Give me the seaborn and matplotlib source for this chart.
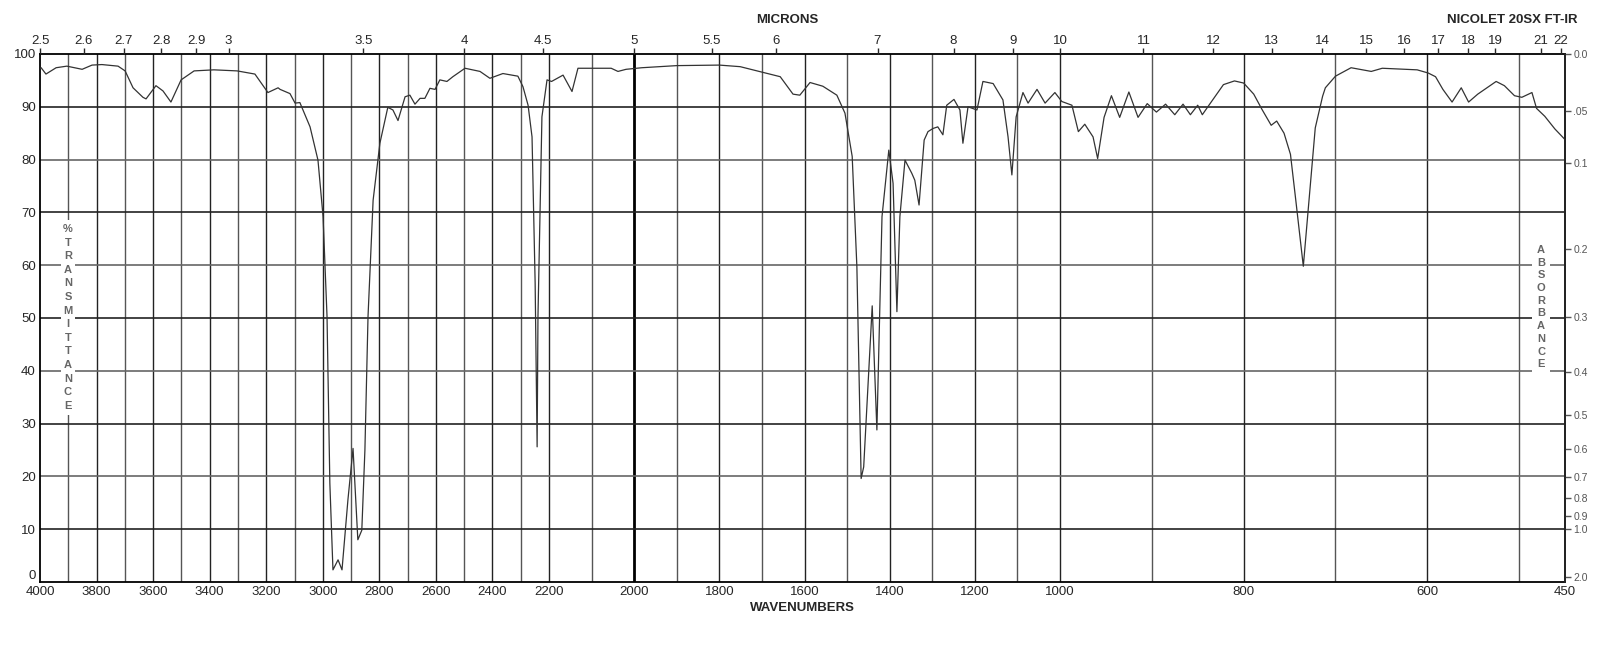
import numpy as np
import pandas as pd
import matplotlib
matplotlib.use("Agg")
import matplotlib.pyplot as plt
from matplotlib.patches import Rectangle
import seaborn as sns

wavenumbers = [4000,3996,3979,3943,3905,3851,3816,3781,3724,3699,3671,3636,3625,3590,3565,3537,3501,3455,3385,3303,3240,3194,3158,3151,3116,3098,3081,3045,3017,2999,2985,2975,2964,2946,2932,2911,2893,2876,2862,2851,2840,2822,2798,2770,2752,2734,2709,2692,2674,2656,2639,2621,2603,2586,2561,2540,2497,2444,2409,2363,2310,2292,2274,2260,2249,2242,2239,2225,2207,2194,2167,2146,2132,2054,2038,2019,1982,1900,1800,1751,1681,1657,1627,1611,1587,1557,1524,1505,1488,1477,1467,1461,1441,1430,1418,1402,1392,1383,1376,1364,1348,1341,1331,1319,1310,1298,1287,1275,1266,1249,1235,1228,1216,1195,1181,1157,1134,1122,1113,1103,1087,1075,1054,1035,1012,998,987,980,973,964,959,952,944,935,925,915,905,895,885,875,866,858,850,845,839,822,810,800,789,780,770,764,756,749,743,735,729,722,714,711,700,683,661,649,611,599,591,583,573,563,555,545,525,516,505,497,486,481,472,461,450]
transmittance = [97.2,97.4,96.2,97.4,97.7,97.1,97.9,98.0,97.7,96.8,93.6,91.8,91.5,94.0,93.0,90.9,95.1,96.8,97.0,96.8,96.2,92.7,93.6,93.3,92.5,90.7,90.8,86.2,79.9,69.2,50.3,18.7,2.3,4.2,2.3,15.6,25.3,8.0,9.8,25.0,50.3,72.3,83.1,89.9,89.4,87.4,91.9,92.2,90.5,91.6,91.6,93.5,93.3,95.1,94.8,95.7,97.3,96.7,95.4,96.3,95.8,93.8,90.3,84.3,56.6,25.6,50.3,88.1,95.1,94.8,96.0,92.9,97.3,97.3,96.7,97.1,97.4,97.8,97.9,97.6,96.2,95.7,92.4,92.2,94.6,93.9,92.2,88.8,80.6,59.7,19.6,21.8,52.3,28.8,69.2,81.8,75.5,51.2,69.2,79.9,77.4,76.1,71.4,83.7,85.3,85.9,86.2,84.7,90.3,91.4,89.4,83.1,90.0,89.4,94.8,94.4,91.3,84.3,77.1,88.1,92.7,90.7,93.3,90.7,92.7,91.0,90.3,85.3,86.7,84.3,80.2,88.0,92.1,88.0,92.8,88.0,90.6,89.0,90.5,88.5,90.5,88.5,90.3,88.5,90.0,94.2,94.9,94.5,92.4,89.5,86.5,87.3,85.0,81.0,72.0,59.8,72.0,86.0,92.0,93.6,95.8,97.4,96.7,97.3,97.0,96.4,95.7,93.3,90.9,93.6,90.9,92.4,94.8,94.0,92.1,91.8,92.7,89.7,88.2,85.8,83.8]

bottom_ticks = [4000,3800,3600,3400,3200,3000,2800,2600,2400,2200,2000,1800,1600,1400,1200,1000,800,600,450]
micron_ticks = [2.5,2.6,2.7,2.8,2.9,3,3.5,4,4.5,5,5.5,6,7,8,9,10,11,12,13,14,15,16,17,18,19,21,22]
absorb_ticks = [0.0,0.05,0.1,0.2,0.3,0.4,0.5,0.6,0.7,0.8,0.9,1.0,2.0]
absorb_labels = ["0.0",".05","0.1","0.2","0.3","0.4","0.5","0.6","0.7","0.8","0.9","1.0","2.0"]

sns.set_style("white")
plt.rcParams['font.family'] = ['Liberation Sans', 'DejaVu Sans']

KN_W = [450, 1000, 2200, 4000]
KN_P = [0, 505, 1016, 1525]
def fwd(w):
    return np.interp(w, KN_W, KN_P)
def inv(p):
    return np.interp(p, KN_P, KN_W)

W, H = 1604, 648
fig = plt.figure(figsize=(W/100, H/100), dpi=100)
ax = fig.add_axes([40/W, 1-582/H, 1525/W, 528/H])
ax.set_xscale('function', functions=(fwd, inv))
ax.set_xlim(4000, 450)
ax.set_ylim(0, 100)

vlines = list(range(3900, 1999, -100)) + list(range(1900, 999, -100)) + [900, 800, 700, 600, 500]
for i, v in enumerate(vlines):
    if v == 2000:
        ax.axvline(v, color='black', lw=2.0, zorder=1)
    else:
        ax.axvline(v, color='#222222' if i % 2 else '#555555', lw=1.0, zorder=1)
for h in range(10, 100, 10):
    ax.axhline(h, color='#222222' if h % 20 else '#666666', lw=1.2, zorder=1)

df = pd.DataFrame({"wn": wavenumbers, "T": transmittance})
sns.lineplot(data=df, x="wn", y="T", sort=False, color='#333333', lw=0.9, ax=ax, zorder=3)

ax.set_xticks(bottom_ticks)
ax.set_xticklabels([str(t) for t in bottom_ticks], fontsize=9.5)
ax.set_yticks(range(0, 101, 10))
ax.set_yticklabels([str(t) for t in range(0, 101, 10)], fontsize=9.5)
ax.get_yticklabels()[0].set_verticalalignment('bottom')
ax.tick_params(axis='both', length=0, pad=3)
ax.set_xlabel("WAVENUMBERS", fontsize=9.5, fontweight='bold', labelpad=3)
ax.set_ylabel("")
for s in ax.spines.values():
    s.set_linewidth(1.3)
    s.set_color('black')

axt = ax.twiny()
axt.set_xscale('function', functions=(fwd, inv))
axt.set_xlim(4000, 450)
axt.set_xticks([10000.0/m for m in micron_ticks])
axt.set_xticklabels([("%g" % m) for m in micron_ticks], fontsize=9.5)
axt.tick_params(axis='x', length=4, width=1, pad=1)
for s in axt.spines.values():
    s.set_visible(False)

axr = ax.twinx()
axr.set_ylim(0, 100)
axr.set_yticks([100 * 10 ** (-a) for a in absorb_ticks])
axr.set_yticklabels(absorb_labels, fontsize=7.5, color='#555555')
axr.tick_params(axis='y', length=4, width=1, pad=2, colors='#555555')
for s in axr.spines.values():
    s.set_visible(False)
axr.spines['right'].set_visible(True)
axr.spines['right'].set_linewidth(1.3)

# white gaps behind the letter columns
fig.patches.append(Rectangle(((68-7)/W, 1-(229+13*13.6+9)/H), 14/W, (13*13.6+18)/H,
                             transform=fig.transFigure, facecolor='white', edgecolor='none', zorder=4))
fig.patches.append(Rectangle(((1541-9)/W, 1-(250+9*12.7+9)/H), 18/W, (9*12.7+18)/H,
                             transform=fig.transFigure, facecolor='white', edgecolor='none', zorder=4))
for i, ch in enumerate("%TRANSMITTANCE"):
    fig.text(68/W, 1-(229 + i*13.6)/H, ch, ha='center', va='center', fontsize=8,
             fontweight='bold', color='#666666', zorder=5)
for i, ch in enumerate("ABSORBANCE"):
    fig.text(1541/W, 1-(250 + i*12.7)/H, ch, ha='center', va='center', fontsize=8,
             fontweight='bold', color='#666666', zorder=5)

fig.text(787/W, 1-20/H, "MICRONS", ha='center', va='center', fontsize=9.5, fontweight='bold')
fig.text(1512/W, 1-20/H, "NICOLET 20SX FT-IR", ha='center', va='center', fontsize=9.5, fontweight='bold')

fig.savefig("out.png", dpi=100)
